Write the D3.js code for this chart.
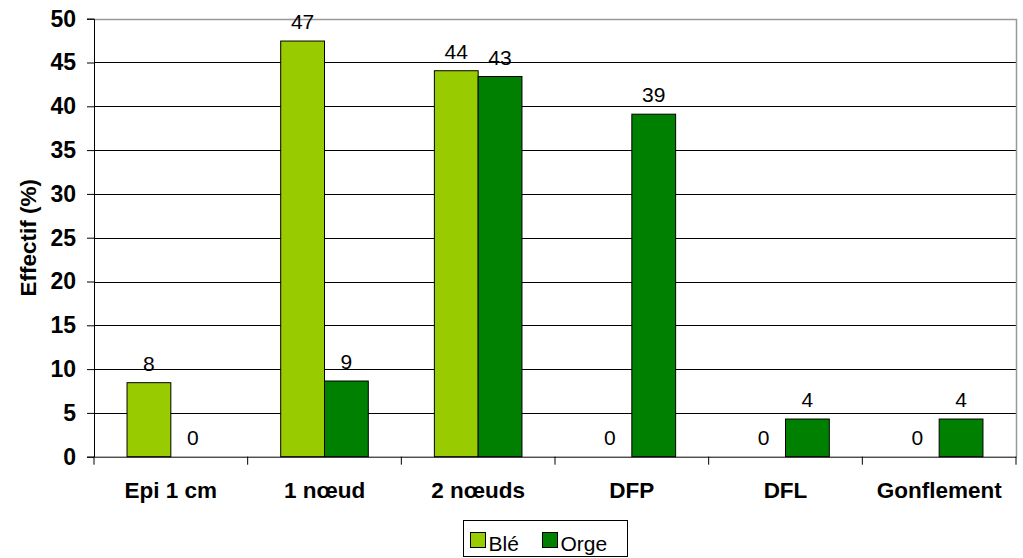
<!DOCTYPE html>
<html>
<head>
<meta charset="utf-8">
<script src="https://cdn.jsdelivr.net/npm/d3@7"></script>
<style>
  body { margin: 0; background: #fff; }
  text { font-family: Arial, "Liberation Sans", sans-serif; }
</style>
</head>
<body>
<div id="chart"></div>
<script>
// data
const categories = ["Epi 1 cm", "1 nœud", "2 nœuds", "DFP", "DFL", "Gonflement"];
const series = ["Blé", "Orge"];
const ble = [8.45, 47.45, 44.06, 0, 0, 0];
const orge = [0, 8.64, 43.4, 39.1, 4.3, 4.3];
const yTicks = [0, 5, 10, 15, 20, 25, 30, 35, 40, 45, 50];
const colors = ["#99cc00", "#008000"];

const width = 1023;
const height = 558;
const margin = {left: 94, right: 7, top: 18.7, bottom: 101.3};
const fontFam = "Arial, 'Liberation Sans', sans-serif";

const svg = d3.select("#chart")
    .append("svg")
    .attr("width", width)
    .attr("height", height);

let xScale = d3.scaleBand()
    .domain(categories)
    .range([margin.left, width - margin.right])
    .paddingInner(0.43)
    .paddingOuter(0.215);

let xSub = d3.scaleBand()
    .domain(series)
    .range([0, xScale.bandwidth()]);

let yScale = d3.scaleLinear()
    .domain([0, 50])
    .range([height - margin.bottom, margin.top]);

// grid lines
svg.append("g")
    .selectAll("line")
    .data(yTicks.slice(1, -1))
    .enter()
    .append("line")
        .attr("x1", margin.left)
        .attr("x2", width - margin.right)
        .attr("y1", d => Math.round(yScale(d)) + 0.5)
        .attr("y2", d => Math.round(yScale(d)) + 0.5)
        .attr("stroke", "#000");

// frame top / right (grey)
svg.append("path")
    .attr("d", `M${margin.left},${Math.round(margin.top) + 0.5}H${width - margin.right + 0.5}V${height - margin.bottom}`)
    .attr("fill", "none")
    .attr("stroke", "#999")
    .attr("stroke-width", 1.5);

// bars
const rows = categories.map((c, i) => ({cat: c, vals: [ble[i], orge[i]]}));

const groups = svg.append("g")
    .selectAll("g")
    .data(rows)
    .enter()
    .append("g")
        .attr("transform", d => `translate(${xScale(d.cat)},0)`);

groups.selectAll("rect")
    .data(d => d.vals.map((v, j) => ({s: series[j], v: v, j: j})))
    .enter()
    .filter(d => d.v > 0)
    .append("rect")
        .attr("x", d => xSub(d.s))
        .attr("y", d => yScale(d.v))
        .attr("width", xSub.bandwidth())
        .attr("height", d => yScale(0) - yScale(d.v))
        .attr("fill", d => colors[d.j])
        .attr("stroke", "#000")
        .attr("stroke-width", 1);

groups.selectAll("text")
    .data(d => d.vals.map((v, j) => ({s: series[j], v: v})))
    .enter()
    .append("text")
        .attr("x", d => xSub(d.s) + xSub.bandwidth() / 2)
        .attr("y", d => yScale(d.v) - 12)
        .attr("text-anchor", "middle")
        .attr("font-size", "21px")
        .text(d => Math.round(d.v));

// y axis
const yAxis = svg.append("g")
    .attr("transform", `translate(${margin.left},0)`)
    .call(d3.axisLeft(yScale).tickValues(yTicks).tickSize(7).tickPadding(11));
yAxis.selectAll("text")
    .attr("font-size", "23px")
    .attr("font-weight", "bold")
    .attr("fill", "#000")
    .style("font-family", fontFam);
yAxis.select(".domain").attr("stroke", "#000");

// x axis
const xAxis = svg.append("g")
    .attr("transform", `translate(0,${height - margin.bottom})`)
    .call(d3.axisBottom(xScale).tickSize(0).tickPadding(25));
xAxis.select(".domain").attr("stroke", "#000");
xAxis.selectAll("text")
    .attr("font-size", "22.5px")
    .attr("font-weight", "bold")
    .attr("fill", "#000")
    .style("font-family", fontFam);

// category separator ticks
svg.append("g")
    .selectAll("line")
    .data(d3.range(categories.length + 1))
    .enter()
    .append("line")
        .attr("x1", i => margin.left + i * (width - margin.right - margin.left) / categories.length)
        .attr("x2", i => margin.left + i * (width - margin.right - margin.left) / categories.length)
        .attr("y1", yScale(0))
        .attr("y2", yScale(0) + 8)
        .attr("stroke", "#000");

// y axis title
svg.append("text")
    .attr("transform", `translate(36,${(margin.top + height - margin.bottom) / 2}) rotate(-90)`)
    .attr("text-anchor", "middle")
    .attr("font-size", "22.5px")
    .attr("font-weight", "bold")
    .text("Effectif (%)");

// legend
const legend = svg.append("g").attr("transform", "translate(463.5,520.5)");
legend.append("rect")
    .attr("width", 164)
    .attr("height", 36)
    .attr("fill", "#fff")
    .attr("stroke", "#000");
const lx = [7, 79];
series.forEach((s, j) => {
    legend.append("rect")
        .attr("x", lx[j])
        .attr("y", 12)
        .attr("width", 15)
        .attr("height", 15)
        .attr("fill", colors[j])
        .attr("stroke", "#000");
    legend.append("text")
        .attr("x", lx[j] + 18)
        .attr("y", 30)
        .attr("font-size", "21px")
        .text(s);
});
</script>
</body>
</html>
